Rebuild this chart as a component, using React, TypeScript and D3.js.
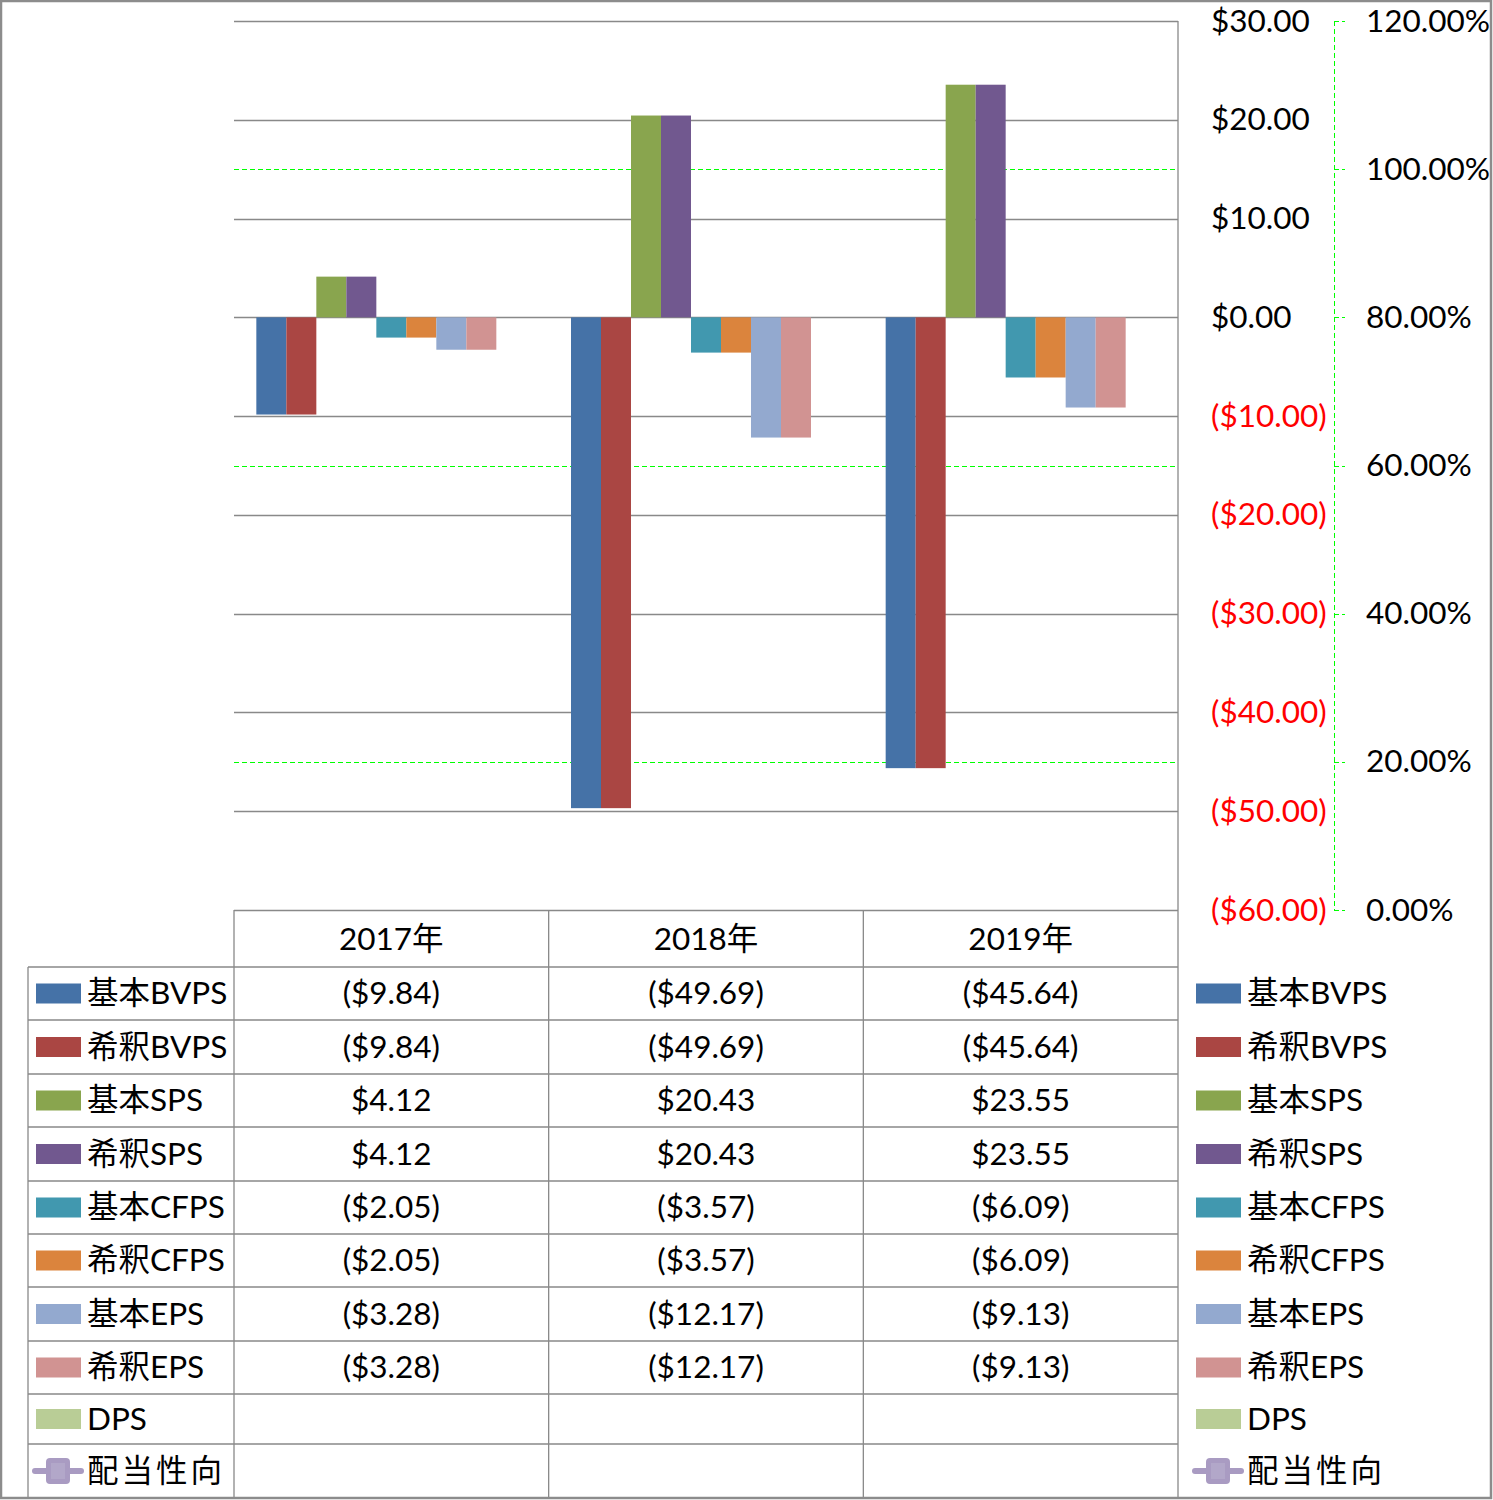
import React from "react";
import * as d3 from "d3";

const categories = ["2017年", "2018年", "2019年"];
const seriesNames = ["基本BVPS", "希釈BVPS", "基本SPS", "希釈SPS", "基本CFPS", "希釈CFPS", "基本EPS", "希釈EPS", "DPS"];
const seriesColors = ["#4572A7", "#AA4643", "#89A54E", "#71588F", "#4198AF", "#DB843D", "#93A9CF", "#D19392", "#B9CD96"];
const kihonBVPS = [-9.84, -49.69, -45.64];
const kishakuBVPS = [-9.84, -49.69, -45.64];
const kihonSPS = [4.12, 20.43, 23.55];
const kishakuSPS = [4.12, 20.43, 23.55];
const kihonCFPS = [-2.05, -3.57, -6.09];
const kishakuCFPS = [-2.05, -3.57, -6.09];
const kihonEPS = [-3.28, -12.17, -9.13];
const kishakuEPS = [-3.28, -12.17, -9.13];
const dps: (number | null)[] = [null, null, null];
const lineName = "配当性向";
const lineColor = "#A99BC2";
const payout: (number | null)[] = [null, null, null];
const dollarTicks = [30, 20, 10, 0, -10, -20, -30, -40, -50, -60];
const pctTicks = [1.2, 1.0, 0.8, 0.6, 0.4, 0.2, 0];

const seriesValues: (number | null)[][] = [kihonBVPS, kishakuBVPS, kihonSPS, kishakuSPS, kihonCFPS, kishakuCFPS, kihonEPS, kishakuEPS, dps];

const FONT = "Lato, 'Noto Sans CJK JP', sans-serif";
const FS = 31.5;

const fmtDollar = (v: number) => {
  const s = "$" + Math.abs(v).toFixed(2);
  return v < 0 ? "(" + s + ")" : s;
};
const fmtPct = (v: number) => (v * 100).toFixed(2) + "%";
const crisp = (v: number) => Math.round(v) + 0.5;

export default function App() {
  const W = 1493, H = 1500;
  const plotL = 234, plotR = 1178, plotT = 21, plotB = 910;
  const y = d3.scaleLinear().domain([-60, 30]).range([plotB, plotT]);
  const y2 = d3.scaleLinear().domain([0, 1.2]).range([plotB, plotT]);
  const x = d3.scaleBand<string>().domain(categories).range([plotL, plotR]).paddingInner(0).paddingOuter(0);
  const bw = x.bandwidth();
  const gap = bw - 270;
  const xs = d3.scaleBand<string>().domain(seriesNames).range([gap / 2, bw - gap / 2]).padding(0);

  const rowTops = [967, 1020, 1074, 1127, 1181, 1234, 1287, 1341, 1394, 1444];
  const tableBottom = 1498;
  const legendNames = [...seriesNames, lineName];
  const legendColors = [...seriesColors, lineColor];
  const rowVals: (number | null)[][] = [...seriesValues, payout];

  const gridGrey = "#898989";
  const dy = -1.5;

  const legendItem = (i: number, sx: number, rowTop: number, rowH: number, key: string) => {
    const cy = rowTop + rowH / 2;
    const isLine = i === legendNames.length - 1;
    return (
      <g key={key}>
        {isLine ? (
          <g>
            <line x1={sx - 1} x2={sx + 45} y1={cy} y2={cy} stroke={lineColor} strokeWidth={6} strokeLinecap="round" />
            <rect x={sx + 10} y={cy - 13} width={24} height={26} rx={4} fill={lineColor} />
            <rect x={sx + 15} y={cy - 8} width={14} height={16} fill="#B2A7C9" />
          </g>
        ) : (
          <rect x={sx} y={cy - 10} width={45} height={20} fill={legendColors[i]} />
        )}
        <text x={sx + 51} y={cy + dy} dominantBaseline="central" fontSize={FS} fill="#000" letterSpacing={isLine ? 3 : 0}>{legendNames[i]}</text>
      </g>
    );
  };

  return (
    <svg width={W} height={H} style={{ position: "absolute", left: 0, top: 0, fontFamily: FONT }}>
      <rect x={0} y={0} width={W} height={H} fill="#fff" />
      {pctTicks.map((t) => (
        <line key={"g2" + t} x1={plotL} x2={plotR} y1={crisp(y2(t))} y2={crisp(y2(t))} stroke="#00FF00" strokeWidth={1} strokeDasharray="5,3" />
      ))}
      {dollarTicks.map((t) => (
        <line key={"g" + t} x1={plotL} x2={plotR} y1={crisp(y(t))} y2={crisp(y(t))} stroke={gridGrey} strokeWidth={1.3} />
      ))}
      {categories.map((c, ci) => (
        <g key={c} transform={`translate(${x(c)},0)`}>
          {seriesNames.map((s, si) => {
            const v = seriesValues[si][ci];
            if (v == null) return null;
            const y0 = y(0), y1 = y(v);
            return <rect key={s} x={xs(s)} y={Math.min(y0, y1)} width={xs.bandwidth()} height={Math.abs(y1 - y0)} fill={seriesColors[si]} />;
          })}
        </g>
      ))}
      {dollarTicks.map((t) => (
        <text key={"l" + t} x={1211} y={y(t) + dy} dominantBaseline="central" fontSize={FS} fill={t < 0 ? "#FF0000" : "#000"}>{fmtDollar(t)}</text>
      ))}
      <line x1={1334.5} x2={1334.5} y1={plotT} y2={plotB} stroke="#00FF00" strokeWidth={1} strokeDasharray="5,3" />
      {pctTicks.map((t) => (
        <g key={"p" + t}>
          <line x1={1334} x2={1345} y1={crisp(y2(t))} y2={crisp(y2(t))} stroke="#00FF00" strokeWidth={1} strokeDasharray="5,3" />
          <text x={1366} y={y2(t) + dy} dominantBaseline="central" fontSize={FS} fill="#000">{fmtPct(t)}</text>
        </g>
      ))}
      <g stroke={gridGrey} strokeWidth={1.3}>
        <line x1={plotL} x2={plotL} y1={plotB} y2={tableBottom} />
        <line x1={28} x2={28} y1={rowTops[0]} y2={tableBottom} />
        {categories.map((c, i) => (
          <line key={"v" + c} x1={(x(c) as number) + bw} x2={(x(c) as number) + bw} y1={i === categories.length - 1 ? plotT : plotB} y2={tableBottom} />
        ))}
        {rowTops.map((r, i) => (
          <line key={"h" + i} x1={28} x2={plotR} y1={r} y2={r} />
        ))}
      </g>
      {categories.map((c) => (
        <text key={"h" + c} x={(x(c) as number) + bw / 2} y={(plotB + rowTops[0]) / 2 - 1} textAnchor="middle" dominantBaseline="central" fontSize={FS} fill="#000">{c}</text>
      ))}
      {legendNames.map((n, i) => {
        const top = rowTops[i];
        const bot = i + 1 < rowTops.length ? rowTops[i + 1] : tableBottom;
        const rh = bot - top;
        return (
          <g key={"row" + n}>
            {legendItem(i, 36, top, rh, "tl" + n)}
            {categories.map((c, ci) => {
              const v = rowVals[i][ci];
              if (v == null) return null;
              return (
                <text key={c} x={(x(c) as number) + bw / 2} y={top + rh / 2 + dy} textAnchor="middle" dominantBaseline="central" fontSize={FS} fill="#000">{fmtDollar(v)}</text>
              );
            })}
            {legendItem(i, 1196, top, rh, "rl" + n)}
          </g>
        );
      })}
      <rect x={1} y={1} width={W - 3} height={H - 3} fill="none" stroke="#8C8C8C" strokeWidth={2.5} />
    </svg>
  );
}
